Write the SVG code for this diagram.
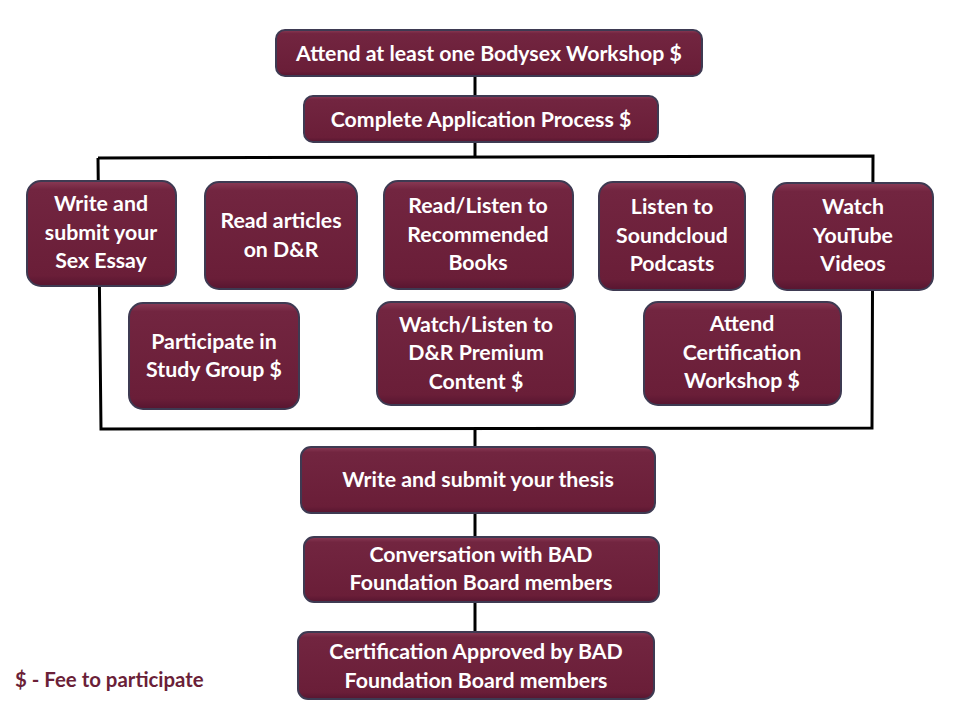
<svg xmlns="http://www.w3.org/2000/svg" width="960" height="720" viewBox="0 0 960 720">
<defs>
<linearGradient id="g" x1="0" y1="0" x2="0" y2="1">
<stop offset="0" stop-color="#8a3a55"/>
<stop offset="0.08" stop-color="#722540"/>
<stop offset="0.9" stop-color="#6a1e38"/>
<stop offset="1" stop-color="#571530"/>
</linearGradient>
<style>
.b{fill:url(#g);stroke:#3e3a52;stroke-width:2}
.t{font-family:Lato,"Open Sans","Liberation Sans",sans-serif;font-weight:bold;font-size:21.3px;fill:#ffffff;text-anchor:middle}
.c{stroke:#000;stroke-width:3;fill:none}
</style>
</defs>
<rect width="960" height="720" fill="#fff"/>
<g id="connectors">
<line class="c" x1="475" y1="76" x2="475" y2="96"/>
<line class="c" x1="475" y1="142" x2="475" y2="157"/>
<polyline class="c" points="98,158 873,156 872,428 101,429 98,158"/>
<line class="c" x1="475" y1="428" x2="475" y2="447"/>
<line class="c" x1="475" y1="513" x2="475" y2="537"/>
<line class="c" x1="475" y1="602" x2="475" y2="632"/>
</g>
<g id="n1"><rect class="b" x="276" y="30" width="426" height="46" rx="9"/><text class="t" x="489" y="61">Attend at least one Bodysex Workshop $</text></g>
<g id="n2"><rect class="b" x="304" y="96" width="354" height="46" rx="9"/><text class="t" x="481" y="127">Complete Application Process $</text></g>
<g id="n3"><rect class="b" x="27" y="181" width="149" height="105" rx="14"/><text class="t" x="101" y="211">Write and</text><text class="t" x="101" y="240">submit your</text><text class="t" x="101" y="268">Sex Essay</text></g>
<g id="n4"><rect class="b" x="205" y="182" width="152" height="107" rx="14"/><text class="t" x="281" y="228">Read articles</text><text class="t" x="281" y="257">on D&amp;R</text></g>
<g id="n5"><rect class="b" x="384" y="181" width="189" height="108" rx="14"/><text class="t" x="478" y="213">Read/Listen to</text><text class="t" x="478" y="242">Recommended</text><text class="t" x="478" y="270">Books</text></g>
<g id="n6"><rect class="b" x="599" y="182" width="146" height="108" rx="14"/><text class="t" x="672" y="214">Listen to</text><text class="t" x="672" y="243">Soundcloud</text><text class="t" x="672" y="271">Podcasts</text></g>
<g id="n7"><rect class="b" x="773" y="183" width="160" height="107" rx="14"/><text class="t" x="853" y="214">Watch</text><text class="t" x="853" y="243">YouTube</text><text class="t" x="853" y="271">Videos</text></g>
<g id="n8"><rect class="b" x="129" y="303" width="170" height="106" rx="14"/><text class="t" x="214" y="349">Participate in</text><text class="t" x="214" y="377">Study Group $</text></g>
<g id="n9"><rect class="b" x="377" y="302" width="198" height="103" rx="14"/><text class="t" x="476" y="332">Watch/Listen to</text><text class="t" x="476" y="360">D&amp;R Premium</text><text class="t" x="476" y="389">Content  $</text></g>
<g id="n10"><rect class="b" x="644" y="302" width="197" height="103" rx="14"/><text class="t" x="742" y="331">Attend</text><text class="t" x="742" y="360">Certification</text><text class="t" x="742" y="388">Workshop $</text></g>
<g id="n11"><rect class="b" x="301" y="447" width="354" height="66" rx="10"/><text class="t" x="478" y="487">Write and submit your thesis</text></g>
<g id="n12"><rect class="b" x="304" y="537" width="355" height="65" rx="10"/><text class="t" x="481" y="562">Conversation with BAD</text><text class="t" x="481" y="590">Foundation Board members</text></g>
<g id="n13"><rect class="b" x="298" y="632" width="356" height="67" rx="10"/><text class="t" x="476" y="659">Certification Approved by BAD</text><text class="t" x="476" y="688">Foundation Board members</text></g>
<text x="15" y="687" style="font-family:Lato,'Open Sans','Liberation Sans',sans-serif;font-weight:bold;font-size:20.4px;fill:#6b1f38">$ - Fee to participate</text>
</svg>
